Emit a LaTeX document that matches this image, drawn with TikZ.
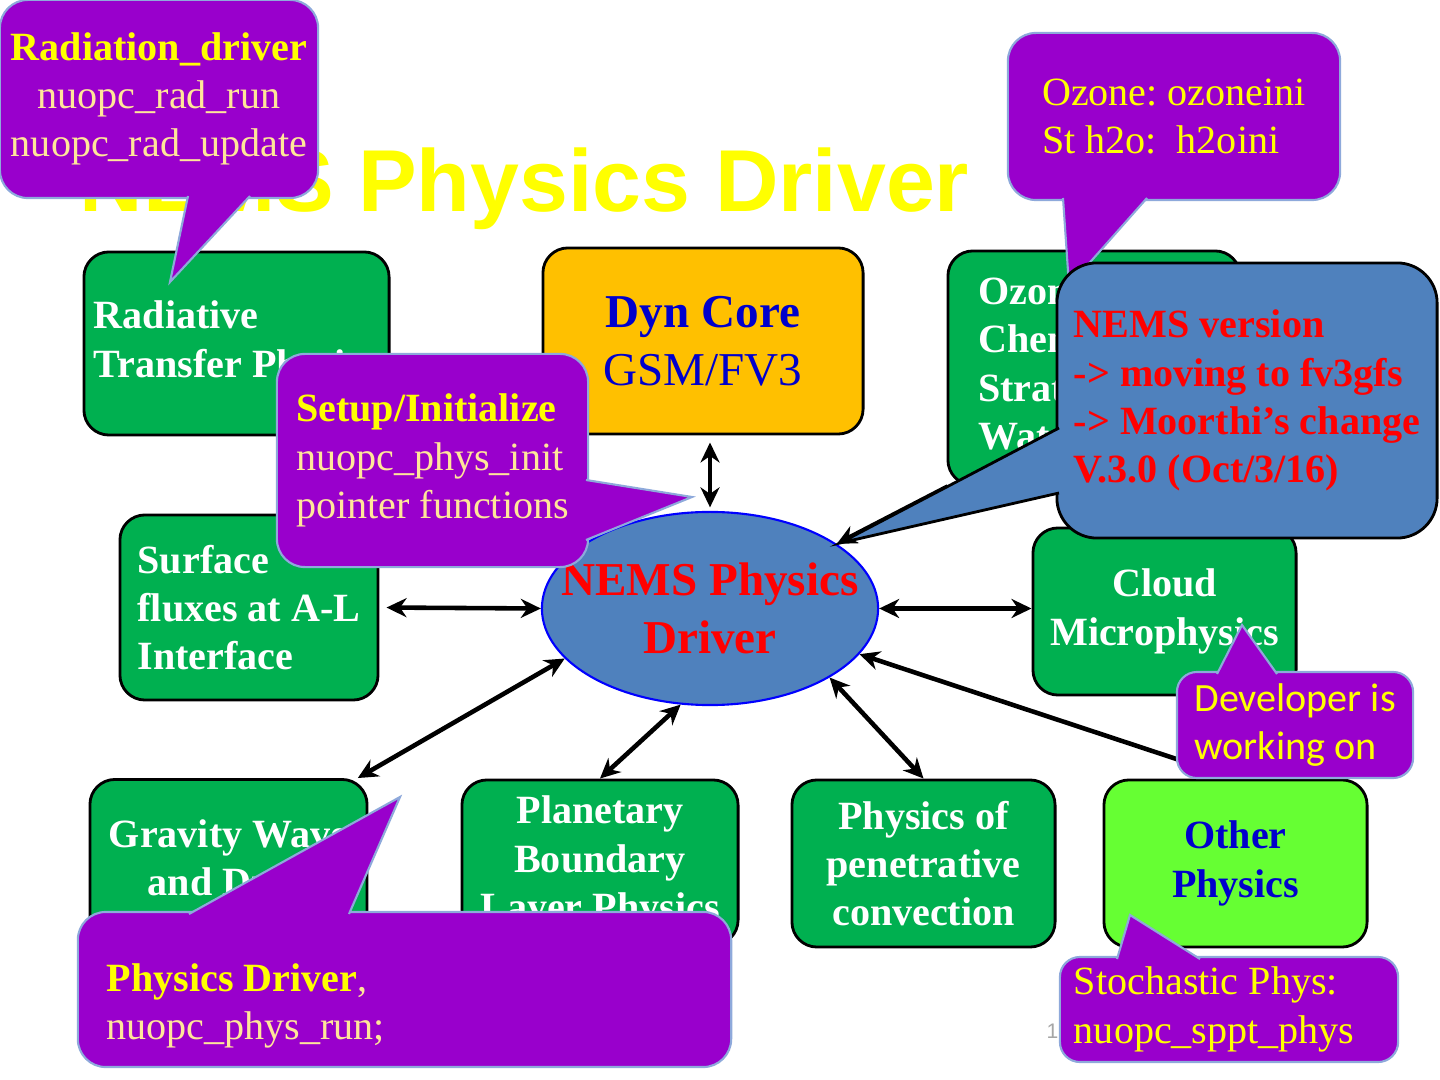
\documentclass[tikz,border=0pt]{standalone}
\usepackage{fontspec}
\setmainfont{Liberation Serif}
\newfontfamily\titlefont{Liberation Sans}
\newfontfamily\calfont{Carlito}
\usepackage{xcolor}
\usepackage{tikz}
\usetikzlibrary{shapes.geometric, arrows.meta}
\definecolor{physgreen}{HTML}{00B050}
\definecolor{othergreen}{HTML}{66FF33}
\definecolor{dyngold}{HTML}{FFC000}
\definecolor{dynblue}{HTML}{0000CC}
\definecolor{drvblue}{HTML}{4F81BD}
\definecolor{drvedge}{HTML}{0000FF}
\definecolor{callpurple}{HTML}{9900CC}
\definecolor{callline}{HTML}{8EA9DB}
\definecolor{callyellow}{HTML}{FFFF00}
\definecolor{callpale}{HTML}{FFE699}
\newcommand{\boxfont}{\fontsize{11.4pt}{13.7pt}\selectfont}
\newcommand{\corefont}{\fontsize{13.4pt}{16.5pt}\selectfont}
\tikzset{
  physbox/.style={rectangle, rounded corners=0.25cm, draw=black, line width=0.8pt,
    fill=physgreen, text=white, font=\boxfont\bfseries, align=center, inner sep=0pt},
  dynbox/.style={physbox, fill=dyngold, text=dynblue, font=\corefont},
  otherbox/.style={physbox, fill=othergreen, text=dynblue},
  drvnode/.style={ellipse, draw=drvedge, line width=0.6pt, fill=drvblue, inner sep=0pt},
  drvtext/.style={text=red, font=\corefont\bfseries, align=center, inner sep=0pt},
  titletext/.style={text=callyellow, font=\titlefont\bfseries\fontsize{25pt}{30pt}\selectfont, inner sep=0pt},
  pagenum/.style={text=gray!70, font=\titlefont\fontsize{6pt}{7pt}\selectfont, inner sep=0pt},
  callbox/.style={rectangle, rounded corners=0.28cm, draw=callline, line width=0.6pt,
    fill=callpurple, text=callyellow, font=\boxfont, inner sep=0pt},
  calltail/.style={fill=callpurple, draw=callline, line width=0.6pt},
  calltext/.style={text=callpale, font=\boxfont, inner sep=0pt},
  verbox/.style={rectangle, rounded corners=0.4cm, draw=black, line width=0.8pt,
    fill=drvblue, text=red, font=\boxfont\bfseries, align=left, inner sep=0pt},
  vertail/.style={fill=drvblue, draw=black, line width=0.8pt},
  biarrow/.style={{Stealth[length=0.2cm, width=0.19cm]}-{Stealth[length=0.2cm, width=0.19cm]}, line width=1.3pt},
  onearrow/.style={-{Stealth[length=0.2cm, width=0.19cm]}, line width=1.3pt}
}

\begin{document}
\frenchspacing
\begin{tikzpicture}[x=0.01cm, y=-0.01cm]
  \useasboundingbox (0,0) rectangle (1440,1080);
  \node[titletext, anchor=base east] (title) at (970,212) {NEMS Physics Driver};
  \node[physbox, minimum width=3.05cm, minimum height=1.83cm, align=left] (rad) at (236.5,343.5)
        {Radiative\\Transfer Physics};
  \node[dynbox, minimum width=3.20cm, minimum height=1.86cm] (dyn) at (703,341)
        {\textbf{Dyn Core}\\GSM/FV3};
  \node[physbox, minimum width=2.92cm, minimum height=2.34cm, align=left] (oz) at (1094,368)
        {Ozone \&\\Chemistry\\Stratospheric\\Water Vapor};
  \node[physbox, minimum width=2.58cm, minimum height=1.85cm, align=left] (surf) at (249,607.5)
        {Surface\\fluxes at A-L\\Interface};
  \node[physbox, minimum width=2.63cm, minimum height=1.67cm] (cloud) at (1164.5,611.5)
        {Cloud\\Microphysics};
  \node[physbox, minimum width=2.77cm, minimum height=1.65cm] (grav) at (228.5,862)
        {Gravity Wave\\and Drag};
  \node[physbox, minimum width=2.76cm, minimum height=1.65cm] (plan) at (600,862.5)
        {Planetary\\Boundary\\Layer Physics};
  \node[physbox, minimum width=2.63cm, minimum height=1.67cm] (conv) at (923.5,863.5)
        {Physics of\\penetrative\\convection};
  \node[otherbox, minimum width=2.63cm, minimum height=1.67cm] (other) at (1235.5,863.5)
        {Other\\Physics};
  \node[drvnode, minimum width=3.36cm, minimum height=1.93cm] (drv) at (710,608.5) {};
  \node[drvtext] (drvlbl) at (drv) {NEMS Physics\\Driver};
  \node[pagenum, anchor=base west] (pnum) at (1046,1038) {1};
  \draw[biarrow, shorten <=1pt, shorten >=2pt] (drv.north) -- (drv.north |- dyn.south);
  \draw[biarrow, shorten <=2pt] (surf.east) -- (drv.west);
  \draw[biarrow] (drv.east) -- (drv.east -| cloud.west);
  \draw[biarrow] (drv.199) -- (grav.33);
  \draw[biarrow] (drv.253) -- (plan.north);
  \draw[biarrow] (drv.330) -- (conv.north);
  \draw[onearrow] (other.north) -- (drv.343);
  \draw[onearrow] (oz.219) -- (drv.27);
  \node[callbox, minimum width=3.18cm, minimum height=1.98cm, text=callpale, align=center] (radcall) at (159,99)
        {\textcolor{callyellow}{\bfseries Radiation\_driver}\\nuopc\_rad\_run\\nuopc\_rad\_update};
  \path[calltail] (188,196) -- (170,282) -- (250,196);
  \node[callbox, minimum width=3.32cm, minimum height=1.67cm, align=left] (ozcall) at (1174,116.5)
        {Ozone: ozoneini\\St h2o:\ \ h2oini};
  \path[calltail] (1063,198) -- (1069,286) -- (1147,198);
  \node[verbox, minimum width=3.80cm, minimum height=2.75cm] (vercall) at (1247,400.5)
        {NEMS version\\-> moving to fv3gfs\\-> Moorthi’s change\\V.3.0 (Oct/3/16)};
  \path[vertail] (1059,428) -- (840,543) -- (1059,493);
  \node[callbox, minimum width=3.11cm, minimum height=2.13cm, text=callpale, align=left] (setcall) at (432.5,460.5)
        {\textcolor{callyellow}{\bfseries Setup/Initialize}\\nuopc\_phys\_init\\pointer functions};
  \path[calltail] (586,480) -- (692,497) -- (586,540);
  \node[callbox, minimum width=6.53cm, minimum height=1.55cm] (pdrvcall) at (404.5,989.5) {};
  \path[calltail] (189,914) -- (400,797) -- (349,914);
  \node[calltext, anchor=west, align=left] (pdrvtxt) at (106,1006)
        {\textcolor{callyellow}{\bfseries Physics Driver},\\nuopc\_phys\_run;};
  \node[callbox, rounded corners=0.2cm, minimum width=2.36cm, minimum height=1.06cm, font=\calfont\boxfont, align=left] (devcall) at (1295,725)
        {Developer is\\working on};
  \path[calltail] (1217,674) -- (1242,625) -- (1277,674);
  \node[callbox, rounded corners=0.2cm, minimum width=3.38cm, minimum height=1.05cm, text width=3.1cm, align=flush left] (stocall) at (1229,1009.5)
        {Stochastic Phys:\\nuopc\_sppt\_phys};
  \path[calltail] (1117,959) -- (1130,915) -- (1200,959);
\end{tikzpicture}
\end{document}
